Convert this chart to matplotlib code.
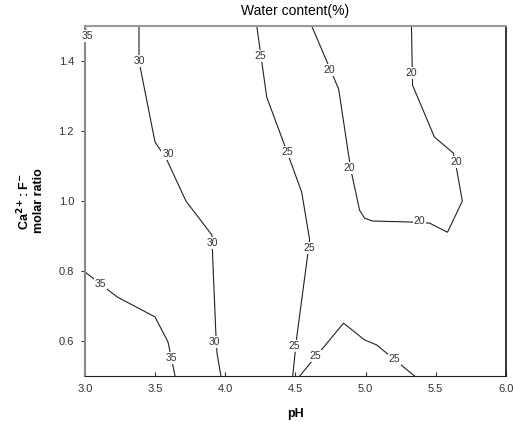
import matplotlib.pyplot as plt

plt.rcParams['font.family'] = ['Liberation Sans', 'DejaVu Sans']

# contour lines (pH, Ca/F molar ratio)
c35_corner_x = [3.0, 3.004]
c35_corner_y = [1.5, 1.49]
c35_x = [3.0, 3.228, 3.498, 3.591, 3.641]
c35_y = [0.797, 0.726, 0.669, 0.597, 0.5]
c30_x = [3.384, 3.384, 3.498, 3.580, 3.719, 3.904, 3.911, 3.932, 3.940, 3.968]
c30_y = [1.5, 1.4, 1.169, 1.12, 1.0, 0.903, 0.823, 0.623, 0.566, 0.5]
c25a_x = [4.224, 4.295, 4.409, 4.544, 4.601, 4.587, 4.509, 4.480]
c25a_y = [1.5, 1.297, 1.174, 1.026, 0.889, 0.846, 0.611, 0.5]
c25b_x = [4.530, 4.843, 4.993, 5.078, 5.349]
c25b_y = [0.5, 0.651, 0.603, 0.589, 0.5]
c20_x = [4.616, 4.808, 4.879, 4.900, 4.957, 4.993, 5.050, 5.335, 5.456, 5.584,
         5.690, 5.648, 5.626, 5.491, 5.335, 5.327]
c20_y = [1.5, 1.320, 1.131, 1.080, 0.974, 0.951, 0.943, 0.940, 0.937, 0.911,
         1.000, 1.094, 1.137, 1.183, 1.331, 1.5]

# inline labels: (text, pH, ratio)
labels = [
    ('35', 3.014, 1.471), ('35', 3.107, 0.763), ('35', 3.612, 0.551),
    ('30', 3.384, 1.400), ('30', 3.591, 1.134), ('30', 3.904, 0.880), ('30', 3.925, 0.597),
    ('25', 4.246, 1.414), ('25', 4.438, 1.140), ('25', 4.601, 0.866), ('25', 4.488, 0.586),
    ('25', 4.644, 0.557), ('25', 5.206, 0.549),
    ('20', 4.744, 1.374), ('20', 4.886, 1.094), ('20', 5.384, 0.943),
    ('20', 5.648, 1.111), ('20', 5.327, 1.366),
]

x_ticks = [3.0, 3.5, 4.0, 4.5, 5.0, 5.5, 6.0]
y_ticks = [0.6, 0.8, 1.0, 1.2, 1.4]


def main():
    fig = plt.figure(figsize=(5.13, 4.22), dpi=100)
    ax = fig.add_axes([0.166, 0.109, 0.82, 0.829])

    for xs, ys in [(c35_corner_x, c35_corner_y), (c35_x, c35_y), (c30_x, c30_y),
                   (c25a_x, c25a_y), (c25b_x, c25b_y), (c20_x, c20_y)]:
        ax.plot(xs, ys, color='#222222', lw=0.8, clip_on=True)

    for txt, x, y in labels:
        ax.text(x, y, txt, fontsize=7.5, color='#333333', ha='center', va='center',
                bbox=dict(facecolor='white', edgecolor='none', pad=0.6))

    ax.set_xlim(3.0, 6.0)
    ax.set_ylim(0.5, 1.5)
    ax.set_xticks(x_ticks)
    ax.set_xticklabels([f'{t:.1f}' for t in x_ticks])
    ax.set_yticks(y_ticks)
    ax.set_yticklabels([f'{t:.1f}' for t in y_ticks])
    ax.tick_params(axis='x', direction='in', length=3, labelsize=8, colors='#333333', pad=6)
    ax.tick_params(axis='y', direction='out', length=3, labelsize=8, colors='#333333', pad=5)

    ax.spines['left'].set_color('#888888')
    ax.spines['left'].set_linewidth(1.5)
    ax.spines['top'].set_color('#999999')
    ax.spines['top'].set_linewidth(1.5)
    ax.spines['bottom'].set_color('#222222')
    ax.spines['right'].set_color('#111111')
    ax.spines['right'].set_linewidth(1.2)

    ax.set_title('Water content(%)', fontsize=10, pad=8)
    ax.set_xlabel('pH', fontsize=9, fontweight='bold', labelpad=10)
    ax.set_ylabel('Ca$^{\\mathbf{2+}}$: F$^{\\mathbf{-}}$\nmolar ratio', fontsize=9,
                  fontweight='bold', labelpad=10, linespacing=1.0)

    fig.savefig('out.png', dpi=100)


if __name__ == '__main__':
    main()
